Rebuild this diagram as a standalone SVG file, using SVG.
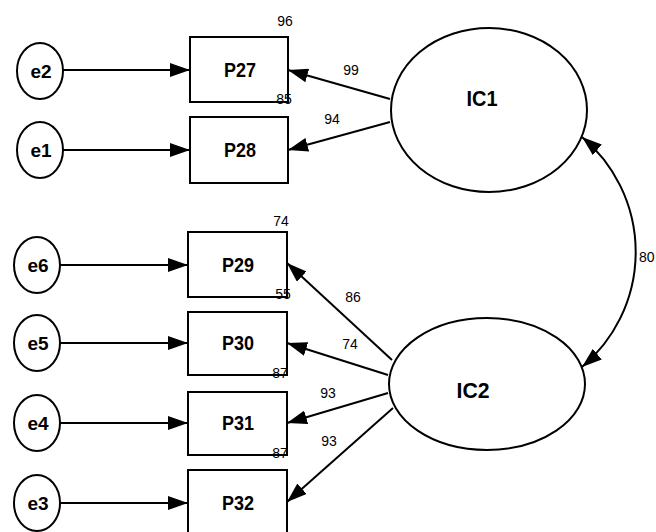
<svg xmlns="http://www.w3.org/2000/svg" width="656" height="532" viewBox="0 0 656 532">
<defs>
<style>
.n{fill:#fff;stroke:#000;stroke-width:2}
.t{font-family:"Liberation Sans",Arial,sans-serif;fill:#000;text-anchor:middle;dominant-baseline:central}
.e{font-size:19px;font-weight:bold}
.p{font-size:20px;font-weight:bold}
.ic{font-size:22px;font-weight:bold}
.sm{font-size:14px}
.c{fill:none;stroke:#000;stroke-width:2}
</style>
<marker id="ah" viewBox="0 0 20 14" refX="20" refY="7" markerWidth="20" markerHeight="14" markerUnits="userSpaceOnUse" orient="auto-start-reverse">
<path d="M0,0 L20,7 L0,14 Z" fill="#000"/>
</marker>
</defs>
<rect width="656" height="532" fill="#fff"/>
<g id="connectors">
<line class="c" x1="63" y1="70" x2="190" y2="70" marker-end="url(#ah)"/>
<line class="c" x1="63" y1="150" x2="190" y2="150" marker-end="url(#ah)"/>
<line class="c" x1="60" y1="265" x2="188" y2="265" marker-end="url(#ah)"/>
<line class="c" x1="60" y1="343" x2="188" y2="343" marker-end="url(#ah)"/>
<line class="c" x1="60" y1="423" x2="188" y2="423" marker-end="url(#ah)"/>
<line class="c" x1="60" y1="503" x2="188" y2="503" marker-end="url(#ah)"/>
<line class="c" x1="390" y1="99" x2="288" y2="70" marker-end="url(#ah)"/>
<line class="c" x1="390" y1="122" x2="288" y2="150" marker-end="url(#ah)"/>
<line class="c" x1="392" y1="360" x2="287" y2="263" marker-end="url(#ah)"/>
<line class="c" x1="388" y1="375" x2="287" y2="343" marker-end="url(#ah)"/>
<line class="c" x1="388" y1="393" x2="287" y2="423" marker-end="url(#ah)"/>
<line class="c" x1="393" y1="408" x2="287" y2="502" marker-end="url(#ah)"/>
<path class="c" d="M582,137 A150 150 0 0 1 582,367" marker-start="url(#ah)" marker-end="url(#ah)"/>
<text class="t sm" x="351" y="70">99</text>
<text class="t sm" x="332" y="119">94</text>
<text class="t sm" x="353" y="297">86</text>
<text class="t sm" x="350" y="344">74</text>
<text class="t sm" x="328" y="393">93</text>
<text class="t sm" x="329" y="441">93</text>
<text class="t sm" x="639" y="257" style="text-anchor:start">80</text>
</g>
<g id="e2"><ellipse class="n" cx="40" cy="71" rx="23" ry="28"/><text class="t e" x="41" y="71">e2</text></g>
<g id="e1"><ellipse class="n" cx="40" cy="150" rx="23" ry="28"/><text class="t e" x="41" y="150">e1</text></g>
<g id="e6"><ellipse class="n" cx="37" cy="265" rx="23" ry="28"/><text class="t e" x="38" y="265">e6</text></g>
<g id="e5"><ellipse class="n" cx="37" cy="343" rx="23" ry="28"/><text class="t e" x="38" y="343">e5</text></g>
<g id="e4"><ellipse class="n" cx="37" cy="423" rx="23" ry="28"/><text class="t e" x="38" y="423">e4</text></g>
<g id="e3"><ellipse class="n" cx="37" cy="503" rx="23" ry="28"/><text class="t e" x="38" y="503">e3</text></g>
<g id="P27"><rect class="n" x="190" y="37" width="98" height="65"/><text class="t p" x="240" y="70" textLength="32" lengthAdjust="spacingAndGlyphs">P27</text><text class="t sm" x="285" y="21">96</text></g>
<g id="P28"><rect class="n" x="190" y="117" width="98" height="66"/><text class="t p" x="240" y="150" textLength="32" lengthAdjust="spacingAndGlyphs">P28</text><text class="t sm" x="284" y="99">85</text></g>
<g id="P29"><rect class="n" x="188" y="232" width="99" height="65"/><text class="t p" x="238" y="265" textLength="32" lengthAdjust="spacingAndGlyphs">P29</text><text class="t sm" x="281" y="221">74</text></g>
<g id="P30"><rect class="n" x="188" y="312" width="99" height="63"/><text class="t p" x="238" y="343" textLength="32" lengthAdjust="spacingAndGlyphs">P30</text><text class="t sm" x="283" y="294">55</text></g>
<g id="P31"><rect class="n" x="188" y="392" width="99" height="63"/><text class="t p" x="238" y="423" textLength="32" lengthAdjust="spacingAndGlyphs">P31</text><text class="t sm" x="280" y="373">87</text></g>
<g id="P32"><rect class="n" x="188" y="470" width="99" height="66"/><text class="t p" x="238" y="503" textLength="32" lengthAdjust="spacingAndGlyphs">P32</text><text class="t sm" x="280" y="453">87</text></g>
<g id="IC1"><ellipse class="n" cx="489" cy="110" rx="98" ry="82"/><text class="t ic" x="482" y="98" textLength="31" lengthAdjust="spacingAndGlyphs">IC1</text></g>
<g id="IC2"><ellipse class="n" cx="487" cy="384" rx="98" ry="66"/><text class="t ic" x="473" y="390" textLength="33" lengthAdjust="spacingAndGlyphs">IC2</text></g>
</svg>
